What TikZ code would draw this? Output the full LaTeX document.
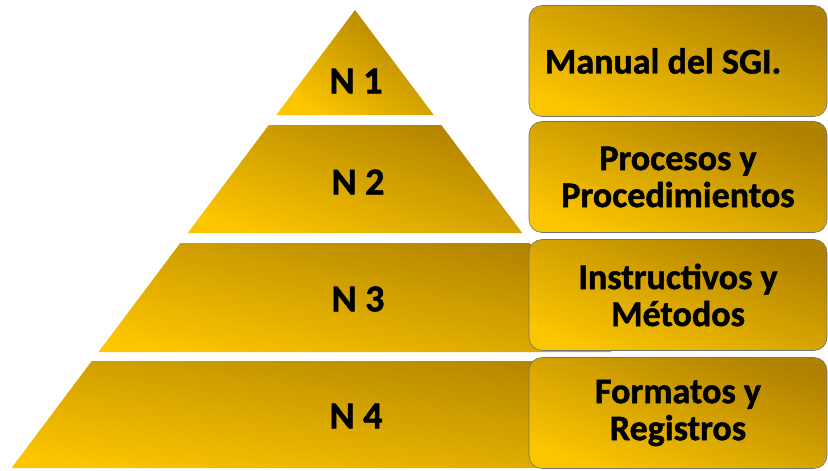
\documentclass[tikz,border=0pt]{standalone}
\usepackage{fontspec}
\setmainfont{Carlito}[BoldFeatures={FakeBold=1.3}]
\usetikzlibrary{positioning}

\definecolor{goldlight}{RGB}{251,197,0}
\definecolor{golddark}{RGB}{176,130,0}

\begin{document}
\begin{tikzpicture}[
  x=1pt, y=-1pt,
  band/.style={top color=golddark, bottom color=goldlight, shading angle=#1},
  lvl/.style={font=\bfseries\fontsize{38}{40}\selectfont, inner sep=0pt},
  doc/.style={draw=black!55, line width=0.6pt, rounded corners=13pt, minimum width=298pt, minimum height=111pt,
    band=-20, align=center, inner sep=0pt,
    font=\bfseries\fontsize{36}{37}\selectfont}
]
\useasboundingbox (0,0) rectangle (828,471);

% pyramid levels
\shade[band=-34] (355,10) -- (433.75,115) -- (276.25,115) -- cycle;
\shade[band=-18] (268.75,125) -- (441.25,125) -- (522.25,233) -- (187.75,233) -- cycle;
\shade[band=-12] (180.25,243) -- (529.75,243) -- (611.5,352) -- (98.5,352) -- cycle;
\shade[band=-9] (91.75,361) -- (618.25,361) -- (698.5,468) -- (11.5,468) -- cycle;

\node[lvl] (n1) at (356,81) {N 1};
\node[lvl] (n2) at (358,182) {N 2};
\node[lvl] (n3) at (358,299) {N 3};
\node[lvl] (n4) at (356,416) {N 4};

% documents per level
\node[doc] (manual) at (678,61) {Manual del SGI.\kern30pt};
\node[doc] (procesos) at (678,177) {Procesos y\\Procedimientos};
\node[doc] (instructivos) at (678,295) {Instructivos y\\Métodos};
\node[doc] (formatos) at (678,413) {Formatos y\\Registros};
\end{tikzpicture}
\end{document}
